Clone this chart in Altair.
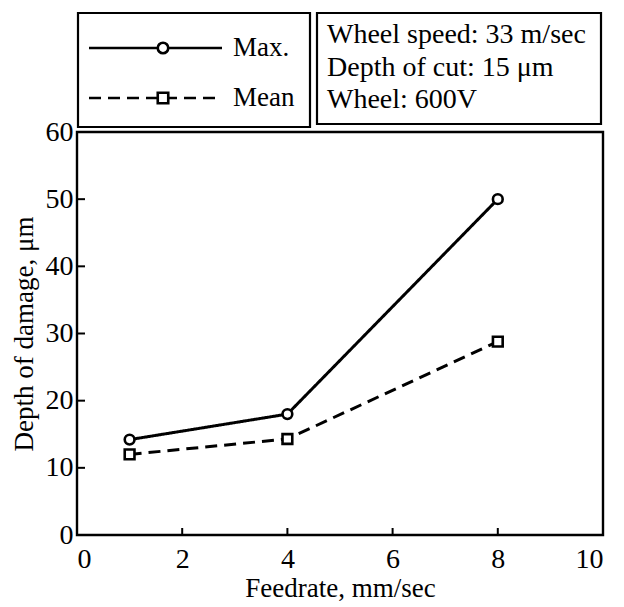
import altair as alt
import pandas as pd

# ---- data ----
feedrate = [1, 4, 8]
max_depth = [14.2, 18.0, 50.0]
mean_depth = [12.0, 14.3, 28.8]
series_names = ["Max.", "Mean"]
x_ticks = [2, 4, 6, 8]
y_ticks = [10, 20, 30, 40, 50]
info_lines = ["Wheel speed: 33 m/sec", "Depth of cut: 15 \u03bcm", "Wheel: 600V"]

FONT = "Liberation Serif"
W, H = 526, 403

df = pd.DataFrame({
    "feedrate": feedrate * 2,
    "depth": max_depth + mean_depth,
    "series": [series_names[0]] * 3 + [series_names[1]] * 3,
})

xscale = alt.Scale(domain=[0, 10], nice=False, zero=False)
yscale = alt.Scale(domain=[0, 60], nice=False)

xax = alt.Axis(values=[0, 2, 4, 6, 8, 10], ticks=False, domain=False, grid=False,
               labelFont=FONT, labelFontSize=28, labelColor="black", labelPadding=10,
               titleFont=FONT, titleFontSize=27, titleFontWeight="normal",
               titleColor="black", titlePadding=2)
yax = alt.Axis(values=[0, 10, 20, 30, 40, 50, 60], ticks=False, domain=False, grid=False,
               labelFont=FONT, labelFontSize=28, labelColor="black", labelPadding=4,
               titleFont=FONT, titleFontSize=27, titleFontWeight="normal",
               titleColor="black", titlePadding=7)

dash_scale = alt.Scale(domain=series_names, range=[[1, 0], [12, 7]])
shape_scale = alt.Scale(domain=series_names, range=["circle", "square"])

lines = alt.Chart(df).mark_line(color="black", strokeWidth=3).encode(
    x=alt.X("feedrate:Q", scale=xscale, axis=xax, title="Feedrate, mm/sec"),
    y=alt.Y("depth:Q", scale=yscale, axis=yax, title="Depth of damage, \u03bcm"),
    strokeDash=alt.StrokeDash("series:N", scale=dash_scale, legend=None),
    detail="series:N",
)

points = alt.Chart(df).mark_point(filled=False, fill="white", fillOpacity=1,
                                   color="black", strokeWidth=2.6, size=95, opacity=1).encode(
    x=alt.X("feedrate:Q", scale=xscale),
    y=alt.Y("depth:Q", scale=yscale),
    shape=alt.Shape("series:N", scale=shape_scale, legend=None),
)

xt = alt.Chart(pd.DataFrame({"t": x_ticks})).mark_rule(color="black", strokeWidth=2).encode(
    x=alt.X("t:Q", scale=xscale), y=alt.value(H), y2=alt.value(H - 7))
yt = alt.Chart(pd.DataFrame({"t": y_ticks})).mark_rule(color="black", strokeWidth=2).encode(
    y=alt.Y("t:Q", scale=yscale), x=alt.value(0), x2=alt.value(8))

one = pd.DataFrame({"a": [0]})
box_style = dict(fill="white", fillOpacity=0, stroke="black", strokeWidth=2.2)
box1 = alt.Chart(one).mark_rect(**box_style).encode(
    x=alt.value(1), x2=alt.value(233), y=alt.value(-119), y2=alt.value(-5))
box2 = alt.Chart(one).mark_rect(**box_style).encode(
    x=alt.value(240), x2=alt.value(524), y=alt.value(-119), y2=alt.value(-8))

leg_rows = [-84, -34]
leg_dash = [[1, 0], [12, 7]]
leg_shape = ["circle", "square"]
legend_layers = []
for name, yy, dash, shp in zip(series_names, leg_rows, leg_dash, leg_shape):
    legend_layers.append(alt.Chart(one).mark_rule(color="black", strokeWidth=2.6, strokeDash=dash).encode(
        x=alt.value(12), x2=alt.value(145), y=alt.value(yy)))
    legend_layers.append(alt.Chart(one).mark_point(shape=shp, filled=False, fill="white", fillOpacity=1,
                                                   color="black", strokeWidth=2.6, size=110, opacity=1).encode(
        x=alt.value(86), y=alt.value(yy)))
    legend_layers.append(alt.Chart(one).mark_text(align="left", baseline="middle", font=FONT,
                                                  fontSize=27, color="black").encode(
        x=alt.value(156), y=alt.value(yy), text=alt.value(name)))

info_layers = []
for line, yy in zip(info_lines, [-97, -64, -32]):
    info_layers.append(alt.Chart(one).mark_text(align="left", baseline="middle", font=FONT,
                                                fontSize=28, color="black").encode(
        x=alt.value(250), y=alt.value(yy), text=alt.value(line)))

chart = alt.layer(lines, points, xt, yt, box1, box2, *legend_layers, *info_layers).properties(
    width=W, height=H,
    autosize=alt.AutoSizeParams(type="none"),
    padding={"left": 69, "top": 124, "right": 13, "bottom": 72},
).configure_view(stroke="black", strokeWidth=2.4)

chart.save("out.html", embed_options={"renderer": "svg", "actions": False})
